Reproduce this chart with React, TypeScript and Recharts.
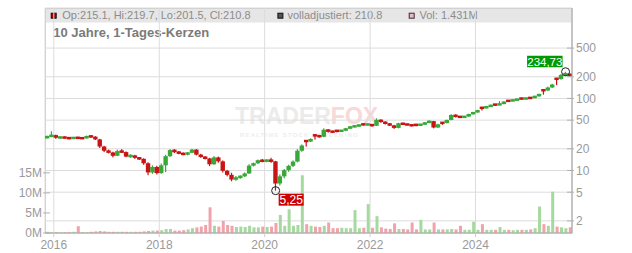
import React from "react";
import {
  ComposedChart,
  Bar,
  XAxis,
  YAxis,
  CartesianGrid,
  ReferenceDot,
} from "recharts";

// First candle: November 2015, one candle per month
const START_YEAR = 2015;
const START_MONTH = 11;

const open = [
  28.5, 29.5, 31, 28.5, 29, 28.3, 28, 28.6, 28.2, 28,
  30, 29.5, 27, 21.5, 18.8, 17.8, 16, 18.6, 18, 15.6,
  16.2, 15, 14.5, 12.6, 9.4, 11.2, 9.2, 11.8, 15.8, 19.2,
  18.2, 17.2, 16.8, 17.6, 19.5, 16.6, 15.4, 14.7, 12.2, 15.2,
  13.4, 9.9, 8.7, 7.5, 8.0, 8.3, 9.1, 11.7, 12.6, 13.9,
  13.4, 14.0, 13.4, 6.6, 8.3, 10.1, 11.6, 13.3, 18.8, 25.9,
  25.4, 31.0, 30.5, 29.4, 36.8, 34.8, 35.8, 35.3, 35.8, 38.4,
  40.6, 41.4, 44.0, 43.4, 43.6, 41.8, 50.5, 47.2, 44.8, 42.3,
  39.0, 45.2, 43.8, 43.2, 43.2, 42.8, 43.5, 46.2, 48.4, 39.5,
  46.2, 45.6, 50.2, 59.0, 55.8, 55.2, 56.0, 60.8, 64.2, 74.5,
  73.8, 77.2, 82.5, 81.8, 83.5, 93.0, 92.2, 95.5, 100.0, 99.5,
  102.0, 101.4, 108.0, 131.0, 129.0, 142.0, 189.0, 186.0, 212.0, 215.1,
];

const high = [
  30.5, 35, 31.5, 29.5, 29.8, 29.2, 29, 29.4, 29, 30.5,
  31, 30, 27.5, 22, 19.5, 18.2, 19.5, 19.8, 18.4, 16.8,
  16.5, 15.4, 14.8, 13, 11.8, 11.6, 12.5, 16.5, 19.8, 19.8,
  18.6, 17.8, 18, 20, 19.8, 17, 15.8, 15, 15.8, 15.6,
  13.8, 10.2, 9.3, 8.4, 8.6, 9.4, 12.2, 12.9, 14.2, 14.4,
  14.3, 15.0, 13.6, 8.8, 10.5, 12.0, 13.8, 19.8, 23.0, 26.5,
  28.0, 31.5, 31.2, 38.5, 37.5, 35.5, 36.0, 36.5, 39.0, 41.5,
  42.5, 43.8, 44.5, 45.0, 44.0, 53.0, 51.5, 48.0, 45.5, 43.0,
  46.0, 46.0, 44.5, 43.8, 43.5, 44.5, 47.0, 49.5, 48.8, 44.5,
  46.5, 51.0, 60.5, 60.0, 56.8, 57.0, 61.5, 65.0, 69.5, 75.0,
  78.5, 82.0, 83.0, 92.0, 91.5, 93.5, 96.5, 98.5, 101.5, 102.0,
  103.0, 109.5, 116.5, 132.0, 146.0, 160.0, 192.0, 218.0, 234.73, 219.7,
];

const low = [
  27.8, 29, 27.5, 27.5, 27.8, 27, 27.5, 27.8, 27.3, 27.8,
  28.5, 26.5, 20.5, 18, 17.2, 15.2, 15.8, 17.5, 15.3, 15,
  14.5, 14, 12, 8.6, 9, 8.8, 9, 9.5, 15.5, 17.5,
  16.8, 16.3, 16.2, 17.4, 16.2, 15, 14.2, 11.5, 12, 12.8,
  9.4, 8.3, 7.1, 7.2, 7.7, 8.1, 9.0, 11.4, 12.3, 13.0,
  13.0, 12.8, 5.25, 6.2, 7.8, 9.6, 11.2, 13.0, 18.2, 21.5,
  24.8, 26.8, 28.6, 29.0, 33.5, 33.2, 33.8, 34.5, 35.2, 37.8,
  39.8, 40.8, 42.0, 42.5, 40.5, 41.5, 46.0, 43.5, 41.5, 37.8,
  38.5, 42.8, 42.5, 41.0, 41.0, 42.0, 43.0, 45.5, 38.5, 39.0,
  43.0, 45.0, 49.8, 54.5, 54.0, 54.5, 55.5, 60.0, 63.5, 68.0,
  73.0, 76.5, 79.0, 81.0, 83.0, 89.5, 91.5, 94.0, 96.0, 97.5,
  98.5, 100.5, 106.5, 113.0, 127.0, 139.0, 153.0, 182.0, 205.0, 201.5,
];

const close = [
  29.5, 31, 28.5, 29, 28.3, 28, 28.6, 28.2, 28, 30,
  29.5, 27, 21.5, 18.8, 17.8, 16, 18.6, 18, 15.6, 16.2,
  15, 14.5, 12.6, 9.4, 11.2, 9.2, 11.8, 15.8, 19.2, 18.2,
  17.2, 16.8, 17.6, 19.5, 16.6, 15.4, 14.7, 12.2, 15.2, 13.4,
  9.9, 8.7, 7.5, 8.0, 8.3, 9.1, 11.7, 12.6, 13.9, 13.4,
  14.0, 13.4, 6.6, 8.3, 10.1, 11.6, 13.3, 18.8, 22.2, 25.4,
  27.2, 30.5, 29.4, 36.8, 34.8, 34.4, 35.3, 35.8, 38.4, 40.6,
  41.4, 42.8, 43.4, 43.6, 41.8, 50.5, 47.2, 44.8, 42.3, 39.0,
  45.2, 43.8, 43.2, 41.8, 42.8, 43.5, 46.2, 48.4, 39.5, 43.8,
  45.6, 50.2, 59.0, 55.8, 55.2, 56.0, 60.8, 64.2, 68.6, 73.8,
  77.2, 80.4, 81.8, 83.5, 90.6, 92.2, 95.5, 97.0, 99.5, 100.2,
  101.4, 108.0, 114.2, 129.0, 142.0, 156.0, 186.0, 212.0, 222.0, 210.8,
];

// volume in millions
const volumeM = [
  0.3, 0.2, 0.2, 0.15, 0.2, 0.2, 0.3, 1.7, 0.2, 0.25,
  0.3, 0.4, 0.5, 0.4, 0.3, 0.3, 0.3, 0.3, 0.3, 0.3,
  0.3, 0.3, 0.4, 0.5, 0.6, 0.6, 0.7, 1.0, 1.0, 0.6,
  0.6, 0.7, 0.9, 1.2, 1.4, 1.6, 2.0, 6.4, 1.8, 1.6,
  3.0, 2.0, 1.8, 1.5, 1.6, 1.5, 1.8, 1.4, 1.4, 1.6,
  1.5, 1.6, 2.5, 4.5, 1.8, 5.9, 1.8, 2.0, 14.4, 2.2,
  1.8, 1.6, 1.5, 1.8, 2.6, 1.2, 1.2, 1.3, 1.2, 1.2,
  5.7, 1.2, 1.3, 7.2, 1.3, 4.2, 1.4, 1.1, 1.0, 2.4,
  1.0, 1.0, 0.9, 2.6, 0.9, 3.3, 0.9, 0.9, 2.6, 0.9,
  0.9, 0.9, 1.0, 0.9, 1.8, 0.8, 0.8, 2.8, 0.8, 2.2,
  0.8, 0.8, 0.8, 1.5, 0.8, 0.8, 0.7, 0.8, 0.8, 0.8,
  0.9, 1.2, 6.6, 2.2, 1.8, 10.3, 1.6, 1.4, 1.2, 1.431,
];

const yearTicks = [2016, 2018, 2020, 2022, 2024];
const priceTicks = [2, 5, 10, 20, 50, 100, 200, 500];
const volTicks = [0, 5, 10, 15];
const X_DOMAIN: [number, number] = [2015.833, 2025.83];

const TITLE = "10 Jahre, 1-Tages-Kerzen";

const RED = "#c81414";
const GREEN = "#38a838";
const VOL_RED = "#f2a2aa";
const VOL_GREEN = "#a6d9a0";
const LABEL = "#9a9a9a";
const FONT = "'Liberation Sans', Arial, sans-serif";

const data = close.map((c, i) => ({
  t: START_YEAR + (START_MONTH - 1 + i + 0.5) / 12,
  open: open[i],
  high: high[i],
  low: low[i],
  close: c,
  vol: volumeM[i],
  range: [low[i], high[i]],
}));

const last = data.length - 1;
let minIdx = 0;
let maxIdx = 0;
low.forEach((v, i) => {
  if (v < low[minIdx]) minIdx = i;
});
high.forEach((v, i) => {
  if (v > high[maxIdx]) maxIdx = i;
});

const fmtDe = (v: number) => v.toFixed(2).replace(".", ",");

const CandleShape = (p: any) => {
  const { x, y, width, height, payload } = p;
  if (x == null || y == null || !payload) return null;
  const top = Math.min(y, y + height);
  const h = Math.abs(height);
  const lh = Math.log(payload.high);
  const ll = Math.log(payload.low);
  const yOf = (v: number) => top + ((lh - Math.log(v)) / (lh - ll || 1)) * h;
  const up = payload.close >= payload.open;
  const col = up ? GREEN : RED;
  const cx = x + width / 2;
  const yo = yOf(payload.open);
  const yc = yOf(payload.close);
  const bh = Math.max(2.5, Math.abs(yo - yc));
  const bt = Math.min(yo, yc) - (bh - Math.abs(yo - yc)) / 2;
  return (
    <g>
      <rect x={cx - 0.6} y={top} width={1.2} height={Math.max(h, 1)} fill={col} />
      <rect x={cx - 2.2} y={bt} width={4.4} height={bh} fill={col} />
    </g>
  );
};

const VolShape = (p: any) => {
  const { x, y, width, height, payload } = p;
  if (x == null || !payload) return null;
  const up = payload.close >= payload.open;
  return (
    <rect
      x={x}
      y={Math.min(y, y + height)}
      width={width}
      height={Math.abs(height)}
      fill={up ? VOL_GREEN : VOL_RED}
    />
  );
};

const PriceTick = (p: any) => {
  const { x, y, payload } = p;
  return (
    <g>
      <line x1={x - 5} x2={x + 2} y1={y} y2={y} stroke="#b0b0b0" />
      <text x={x + 4} y={y} dy="0.36em" fontSize={12} fill={LABEL} textAnchor="start">
        {payload.value}
      </text>
    </g>
  );
};

const VolTick = (p: any) => {
  const { x, y, payload } = p;
  return (
    <g>
      <line x1={x - 2} x2={x + 5} y1={y} y2={y} stroke="#b0b0b0" />
      <text x={x - 3} y={y} dy="0.36em" fontSize={12} fill={LABEL} textAnchor="end">
        {`${payload.value}M`}
      </text>
    </g>
  );
};

const LowMarker = (p: any) => {
  const { cx, cy } = p;
  if (cx == null) return null;
  const label = fmtDe(low[minIdx]);
  return (
    <g>
      <circle cx={cx} cy={cy} r={4} fill="none" stroke="#222" strokeWidth={1} />
      <rect x={cx + 3} y={cy + 3} width={25} height={12} fill="#cc0000" />
      <text x={cx + 15.5} y={cy + 13.3} fontSize={12} fill="#fff" textAnchor="middle">
        {label}
      </text>
    </g>
  );
};

const HighMarker = (p: any) => {
  const { cx, cy } = p;
  if (cx == null) return null;
  const label = fmtDe(high[maxIdx]);
  return (
    <g>
      <circle cx={cx} cy={cy} r={4} fill="none" stroke="#222" strokeWidth={1} />
      <rect x={cx - 38.5} y={cy - 16} width={35.5} height={11.5} fill="#009900" />
      <text x={cx - 20.75} y={cy - 6} fontSize={11.5} fill="#fff" textAnchor="middle">
        {label}
      </text>
    </g>
  );
};

export default function App() {
  const legend1 = `Op:${open[last]}, Hi:${high[last]}, Lo:${low[last]}, Cl:${close[last]}`;
  const legend2 = `volladjustiert: ${close[last]}`;
  const legend3 = `Vol: ${volumeM[last]}M`;
  return (
    <div
      style={{
        position: "absolute",
        left: 0,
        top: 0,
        width: 632,
        height: 253,
        background: "#fff",
        fontFamily: FONT,
      }}
    >
      <svg
        width={632}
        height={253}
        style={{ position: "absolute", left: 0, top: 0 }}
        fontFamily={FONT}
      >
        <rect x={45} y={8} width={527} height={14.5} fill="#e6e6e6" />
        <rect x={51.2} y={13.2} width={5} height={5} fill="#b00000" stroke="#111" />
        <text x={62.3} y={19.3} fontSize={11} fill="#8c8c8c">
          {legend1}
        </text>
        <rect x={277.9} y={13.2} width={5} height={5} fill="#555" stroke="#111" />
        <text x={287.5} y={19.3} fontSize={11} fill="#8c8c8c">
          {legend2}
        </text>
        <rect x={409.2} y={13.2} width={5} height={5} fill="#f4b4bc" stroke="#333" />
        <text x={419.5} y={19.3} fontSize={11} fill="#8c8c8c">
          {legend3}
        </text>
        <text x={53.3} y={37.3} fontSize={13} fontWeight="bold" fill="#7a7a7a">
          {TITLE}
        </text>
        <text x={235} y={124} fontSize={23} fontWeight="bold" fill="#ebebeb">
          TRADER<tspan fill="#f8d8d8">FOX</tspan>
        </text>
        <text x={240} y={136.5} fontSize={6} fontWeight="bold" fill="#ededed" letterSpacing={1.2}>
          REALTIME STOCK SCREENING
        </text>
        <rect x={45.5} y={8.5} width={526.5} height={224.5} fill="none" stroke="#c8c8c8" />
      </svg>
      <div style={{ position: "absolute", left: 0, top: 0 }}>
        <ComposedChart
          width={632}
          height={253}
          data={data}
          margin={{ top: 8, right: 0, bottom: 0, left: 0 }}
        >
          <CartesianGrid xAxisId="a" yAxisId="price" stroke="#dcdcdc" />
          <XAxis
            xAxisId="a"
            dataKey="t"
            type="number"
            domain={X_DOMAIN}
            allowDataOverflow
            ticks={yearTicks}
            interval={0}
            height={20}
            tickSize={4}
            tickMargin={3}
            tick={{ fill: LABEL, fontSize: 12 }}
            tickLine={{ stroke: "#cfcfcf" }}
            axisLine={{ stroke: "#aaaaaa" }}
          />
          <XAxis
            xAxisId="b"
            dataKey="t"
            type="number"
            domain={X_DOMAIN}
            allowDataOverflow
            hide
          />
          <YAxis
            yAxisId="vol"
            orientation="left"
            width={45}
            domain={[0, 56.1]}
            ticks={volTicks}
            interval={0}
            allowDataOverflow
            axisLine={false}
            tickLine={false}
            tickSize={0}
            tickMargin={0}
            tick={(p: any) => <VolTick {...p} />}
          />
          <YAxis
            yAxisId="price"
            orientation="right"
            width={60}
            scale="log"
            domain={[1.357, 1800]}
            ticks={priceTicks}
            interval={0}
            allowDataOverflow
            axisLine={{ stroke: "#aaaaaa" }}
            tickLine={false}
            tickSize={0}
            tickMargin={0}
            tick={(p: any) => <PriceTick {...p} />}
          />
          <Bar
            xAxisId="b"
            yAxisId="vol"
            dataKey="vol"
            barSize={3}
            isAnimationActive={false}
            shape={(p: any) => <VolShape {...p} />}
          />
          <Bar
            xAxisId="a"
            yAxisId="price"
            dataKey="range"
            barSize={4}
            isAnimationActive={false}
            shape={(p: any) => <CandleShape {...p} />}
          />
          <ReferenceDot
            xAxisId="a"
            yAxisId="price"
            x={data[minIdx].t}
            y={low[minIdx]}
            shape={(p: any) => <LowMarker {...p} />}
          />
          <ReferenceDot
            xAxisId="a"
            yAxisId="price"
            x={data[maxIdx].t}
            y={high[maxIdx]}
            shape={(p: any) => <HighMarker {...p} />}
          />
        </ComposedChart>
      </div>
    </div>
  );
}
